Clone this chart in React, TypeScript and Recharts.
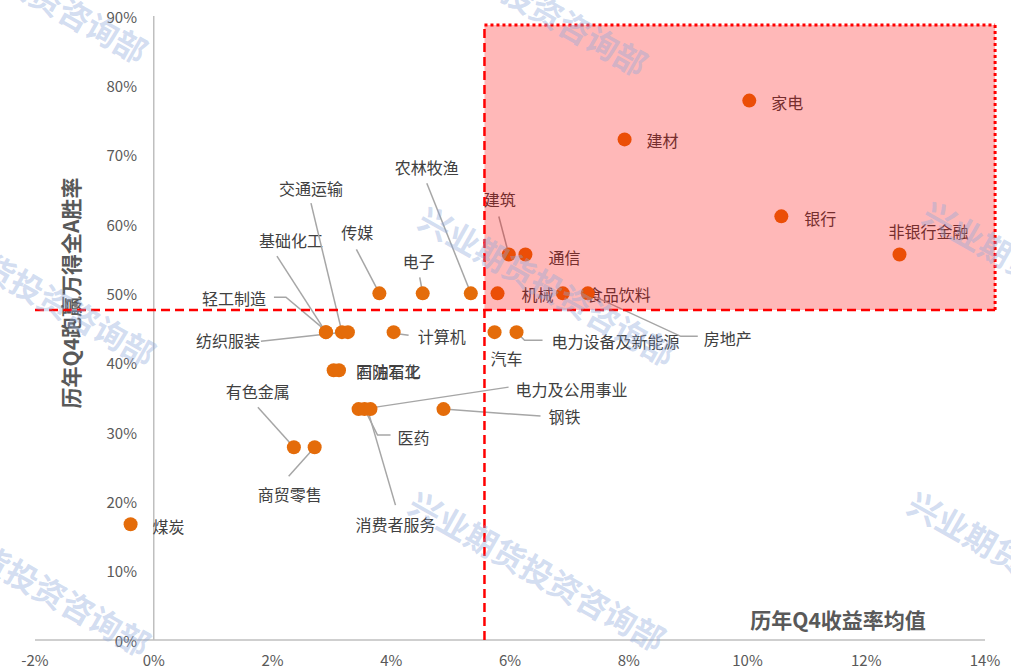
import React from 'react';
import { ScatterChart, Scatter, XAxis, YAxis, ReferenceLine, ReferenceArea } from 'recharts';

// ---------- data ----------
const industries = [
  '煤炭', '有色金属', '商贸零售', '石油石化', '国防军工', '电力及公用事业', '医药', '消费者服务', '钢铁',
  '轻工制造', '基础化工', '交通运输', '纺织服装', '计算机', '传媒', '电子', '农林牧渔', '汽车',
  '电力设备及新能源', '建筑', '通信', '机械', '食品饮料', '房地产', '建材', '家电', '银行', '非银行金融',
];
// 历年Q4收益率均值 (%)
const avgReturns = [
  -0.39, 2.36, 2.71, 3.03, 3.12, 3.45, 3.55, 3.65, 4.88,
  2.9, 2.9, 3.17, 3.27, 4.04, 3.8, 4.53, 5.34, 5.74,
  6.11, 5.98, 6.26, 5.79, 6.89, 7.31, 7.93, 10.03, 10.57, 12.56,
];
// 历年Q4跑赢万得全A胜率 (%)
const winRates = [
  16.7, 27.8, 27.8, 38.9, 38.9, 33.3, 33.3, 33.3, 33.3,
  44.4, 44.4, 44.4, 44.4, 44.4, 50, 50, 50, 44.4,
  44.4, 55.6, 55.6, 50, 50, 50, 72.2, 77.8, 61.1, 55.6,
];
const xTicks = [-2, 0, 2, 4, 6, 8, 10, 12, 14];
const yTicks = [0, 10, 20, 30, 40, 50, 60, 70, 80, 90];
const RETURN_MEAN = 5.57;
const WINRATE_MEAN = 47.6;
const ZONE_RIGHT = 14.17;
const ZONE_TOP = 88.7;

const data = industries.map((name, i) => ({ name, x: avgReturns[i], y: winRates[i] }));

// ---------- label layout (pixel offsets relative to each point) ----------
type LabelLayout = { dx: number; dy: number; anchor?: 'start' | 'middle' | 'end'; leader?: number[][] };
const labelLayout: Record<string, LabelLayout> = {
  '煤炭': { dx: 22, dy: 2 },
  '有色金属': { dx: -36, dy: -56, anchor: 'middle', leader: [[0, 0], [-36, -40]] },
  '商贸零售': { dx: -25, dy: 47, anchor: 'middle', leader: [[0, 0], [-26, 29]] },
  '石油石化': { dx: 23, dy: 1 },
  '国防军工': { dx: 17, dy: 1 },
  '电力及公用事业': { dx: 157, dy: -20, leader: [[4, 0], [150, -22]] },
  '医药': { dx: 33, dy: 28, leader: [[0, 0], [13, 26], [26, 26]] },
  '消费者服务': { dx: 25, dy: 115, anchor: 'middle', leader: [[-3, 0], [25, 96]] },
  '钢铁': { dx: 105, dy: 7, leader: [[0, 0], [97, 7]] },
  '轻工制造': { dx: -92, dy: -34, anchor: 'middle', leader: [[-2, -3], [-40, -35], [-52, -35]] },
  '基础化工': { dx: -35, dy: -92, anchor: 'middle', leader: [[-2, -3], [-49, -76]] },
  '交通运输': { dx: -31, dy: -144, anchor: 'middle', leader: [[0, 0], [-31, -129]] },
  '纺织服装': { dx: -120, dy: 8, anchor: 'middle', leader: [[-5, 0], [-87, 9]] },
  '计算机': { dx: 24, dy: 4, leader: [[0, 1], [15, 3]] },
  '传媒': { dx: -22, dy: -61, anchor: 'middle', leader: [[0, 0], [-23, -44]] },
  '电子': { dx: -4, dy: -32, anchor: 'middle', leader: [[0, 0], [-3, -16]] },
  '农林牧渔': { dx: -44, dy: -126, anchor: 'middle', leader: [[0, 0], [-44, -110]] },
  '汽车': { dx: 12, dy: 26, anchor: 'middle' },
  '电力设备及新能源': { dx: 35, dy: 9, leader: [[0, 0], [8, 8], [26, 8]] },
  '建筑': { dx: -9, dy: -56, anchor: 'middle', leader: [[0, 0], [-10, -38]] },
  '通信': { dx: 23, dy: 2 },
  '机械': { dx: 24, dy: 1 },
  '食品饮料': { dx: 24, dy: 1 },
  '房地产': { dx: 116, dy: 45, leader: [[0, 0], [93, 43], [110, 43]] },
  '建材': { dx: 22, dy: 1 },
  '家电': { dx: 22, dy: 1 },
  '银行': { dx: 23, dy: 2 },
  '非银行金融': { dx: 29, dy: -24, anchor: 'middle' },
};

const FONT = '"Noto Sans CJK SC", "Noto Sans", sans-serif';
const DOT_COLOR = '#E46C0A';
const LEADER_COLOR = '#A6A6A6';
const LABEL_COLOR = '#404040';
const AXIS_TEXT = '#595959';
const ZONE_RED = '#FF0000';

const LabelShape = (props: any) => {
  const { cx, cy, payload } = props;
  const lay = labelLayout[payload.name] || { dx: 20, dy: 0 };
  const pts = lay.leader ? lay.leader.map(([a, b]) => `${cx + a},${cy + b}`).join(' ') : null;
  return (
    <g>
      {pts && <polyline points={pts} fill="none" stroke={LEADER_COLOR} strokeWidth={1.5} />}
      <text
        x={cx + lay.dx}
        y={cy + lay.dy}
        textAnchor={lay.anchor || 'start'}
        dominantBaseline="central"
        fontFamily={FONT}
        fontSize={16}
        fill={LABEL_COLOR}
      >
        {payload.name}
      </text>
    </g>
  );
};

const DotShape = (props: any) => {
  const { cx, cy } = props;
  return <circle cx={cx} cy={cy} r={7} fill={DOT_COLOR} />;
};

const Y_TICK_X = 137;
const YTick = (props: any) => {
  const { y, payload } = props;
  return (
    <text x={Y_TICK_X} y={y} textAnchor="end" dominantBaseline="central" fontFamily={FONT} fontSize={15} fill={AXIS_TEXT}>
      {`${payload.value}%`}
    </text>
  );
};

const watermarkCenters = [
  [20, -18], [520, -5],
  [28, 285], [548, 285], [1052, 280],
  [23, 575], [538, 570], [1037, 570],
];

export default function App() {
  return (
    <div style={{ position: 'absolute', left: 0, top: 0, width: 1011, height: 671, background: '#fff' }}>
      <ScatterChart width={1011} height={671} margin={{ top: 16, right: 26, left: 0, bottom: 0 }}>
        <XAxis
          type="number"
          dataKey="x"
          domain={[-2, 14]}
          ticks={xTicks}
          allowDataOverflow
          tickFormatter={(v: number) => `${v}%`}
          height={31}
          tickLine={false}
          tickSize={0}
          tickMargin={15}
          axisLine={{ stroke: '#BFBFBF', strokeWidth: 1.5 }}
          tick={{ fill: AXIS_TEXT, fontSize: 15, fontFamily: FONT }}
          label={{
            content: () => (
              <text x={838} y={619} textAnchor="middle" dominantBaseline="central" fontFamily={FONT} fontSize={21} fontWeight="bold" fill={AXIS_TEXT}>
                历年Q4收益率均值
              </text>
            ),
          }}
        />
        <YAxis
          type="number"
          dataKey="y"
          domain={[0, 90]}
          ticks={yTicks}
          interval={0}
          width={35}
          axisLine={false}
          tickLine={false}
          tick={(p: any) => <YTick {...p} />}
          label={{
            content: () => (
              <text transform="translate(70,293) rotate(-90)" textAnchor="middle" dominantBaseline="central" fontFamily={FONT} fontSize={21} fontWeight="bold" fill={AXIS_TEXT}>
                历年Q4跑赢万得全A胜率
              </text>
            ),
          }}
        />
        <ReferenceLine x={0} stroke="#BFBFBF" strokeWidth={1.5} />
        <Scatter data={data} isAnimationActive={false} shape={<LabelShape />} zIndex={600} />
        <Scatter data={data} isAnimationActive={false} shape={<DotShape />} zIndex={610} />
        <ReferenceArea
          x1={RETURN_MEAN}
          x2={ZONE_RIGHT}
          y1={WINRATE_MEAN}
          y2={ZONE_TOP}
          ifOverflow="visible"
          fill={ZONE_RED}
          fillOpacity={0.28}
          stroke="none"
          zIndex={2500}
        />
        <ReferenceLine
          segment={[{ x: -2, y: WINRATE_MEAN }, { x: ZONE_RIGHT, y: WINRATE_MEAN }]}
          ifOverflow="visible"
          stroke={ZONE_RED}
          strokeWidth={2.5}
          strokeDasharray="9 5"
          zIndex={2600}
        />
        <ReferenceLine
          segment={[{ x: RETURN_MEAN, y: 0 }, { x: RETURN_MEAN, y: ZONE_TOP }]}
          ifOverflow="visible"
          stroke={ZONE_RED}
          strokeWidth={2.5}
          strokeDasharray="9 5"
          zIndex={2600}
        />
        <ReferenceLine
          segment={[{ x: RETURN_MEAN, y: ZONE_TOP }, { x: ZONE_RIGHT, y: ZONE_TOP }]}
          ifOverflow="visible"
          stroke={ZONE_RED}
          strokeWidth={3}
          strokeDasharray="3 3"
          zIndex={2600}
        />
        <ReferenceLine
          segment={[{ x: ZONE_RIGHT, y: ZONE_TOP }, { x: ZONE_RIGHT, y: WINRATE_MEAN }]}
          ifOverflow="visible"
          stroke={ZONE_RED}
          strokeWidth={3}
          strokeDasharray="3 3"
          zIndex={2600}
        />
      </ScatterChart>
      <svg
        width={1011}
        height={671}
        style={{ position: 'absolute', left: 0, top: 0, pointerEvents: 'none' }}
      >
        {watermarkCenters.map(([cx, cy], i) => (
          <text
            key={i}
            transform={`translate(${cx},${cy}) rotate(29.5)`}
            textAnchor="middle"
            dominantBaseline="central"
            fontFamily={FONT}
            fontSize={32}
            fontWeight="bold"
            fill="rgb(142,169,219)"
            fillOpacity={0.4}
          >
            兴业期货投资咨询部
          </text>
        ))}
      </svg>
    </div>
  );
}
